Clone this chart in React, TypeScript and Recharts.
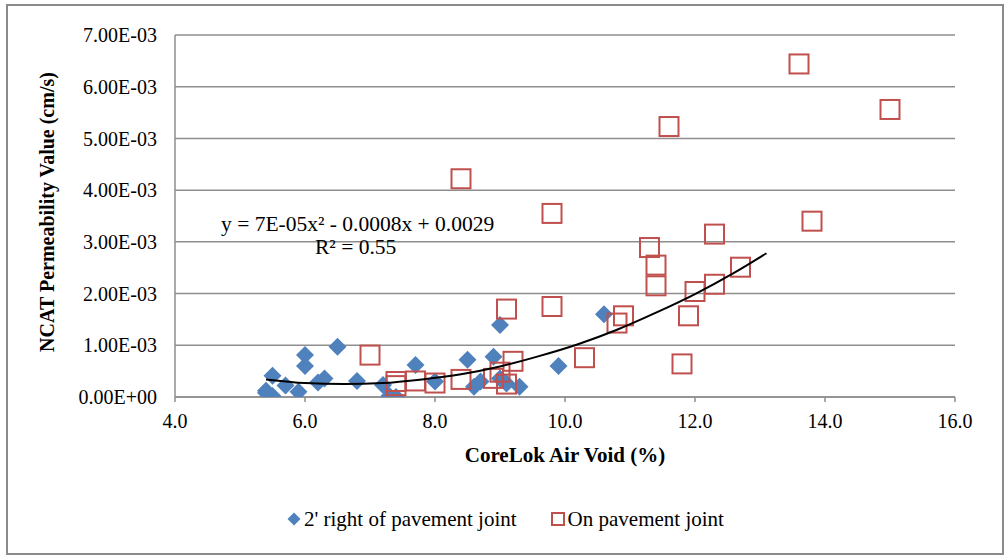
import React from 'react';
import { ScatterChart, Scatter, XAxis, YAxis, CartesianGrid } from 'recharts';

// 2' right of pavement joint (CoreLok air void %, permeability cm/s)
const blueX = [5.4, 5.5, 5.5, 5.7, 5.9, 6.0, 6.0, 6.2, 6.3, 6.5, 6.8, 7.2, 7.3, 7.4, 7.7, 8.0, 8.5, 8.6, 8.7, 8.9, 9.0, 9.0, 9.1, 9.3, 9.9, 10.6, 5.4];
const blueY = [0.00012, 0.00041, 0.00002, 0.00022, 0.0001, 0.00081, 0.0006, 0.00028, 0.00036, 0.00097, 0.00031, 0.00023, 0.00002, 0.0, 0.00062, 0.0003, 0.00072, 0.0002, 0.0003, 0.00078, 0.00139, 0.00036, 0.00026, 0.0002, 0.0006, 0.0016, 0.00008];

// On pavement joint
const redX = [7.0, 7.4, 7.4, 7.7, 8.0, 8.4, 8.4, 8.9, 9.0, 9.1, 9.1, 9.2, 9.8, 9.8, 10.3, 10.8, 10.9, 11.3, 11.4, 11.4, 11.6, 11.8, 11.9, 12.0, 12.3, 12.3, 12.7, 13.6, 13.8, 15.0];
const redY = [0.00081, 0.0003, 0.00022, 0.00031, 0.00027, 0.00422, 0.00034, 0.00036, 0.00048, 0.00025, 0.0017, 0.00069, 0.00355, 0.00175, 0.00076, 0.00143, 0.00157, 0.00289, 0.00255, 0.00215, 0.00523, 0.00064, 0.00157, 0.00204, 0.00315, 0.00218, 0.00251, 0.00644, 0.0034, 0.00556];

// Polynomial trendline
const trendX = [5.4, 6.0, 6.6, 7.2, 7.8, 8.4, 9.0, 9.6, 10.2, 10.8, 11.4, 12.0, 12.6, 13.1];
const trendY = [0.00034, 0.00027, 0.00025, 0.00027, 0.00034, 0.00044, 0.00059, 0.00079, 0.00102, 0.0013, 0.00163, 0.00199, 0.0024, 0.00278];

const xTicks = [4, 6, 8, 10, 12, 14, 16];
const yTicks = [0, 0.001, 0.002, 0.003, 0.004, 0.005, 0.006, 0.007];

const seriesNames = ["2' right of pavement joint", 'On pavement joint'];
const equationText = 'y = 7E-05x² - 0.0008x + 0.0029';
const r2Text = 'R² = 0.55';
const xTitle = 'CoreLok Air Void (%)';
const yTitle = 'NCAT Permeability Value (cm/s)';

const blueData = blueX.map((x, i) => ({ x, y: blueY[i] }));
const redData = redX.map((x, i) => ({ x, y: redY[i] }));
const trendData = trendX.map((x, i) => ({ x, y: trendY[i] }));

const BLUE = '#4F81BD';
const RED = '#C0504D';
const GRID = '#8E8E8E';
const FONT = '"Liberation Serif", "Times New Roman", serif';

const fmtY = (v: number) => {
  const s = v.toExponential(2);
  const [m, e] = s.split('e');
  const sign = e[0] === '-' ? '-' : '+';
  const digits = e.replace(/[+-]/, '').padStart(2, '0');
  return `${m}E${sign}${digits}`;
};

const Diamond = (props: any) => {
  const { cx, cy } = props;
  if (cx == null || cy == null) return <g />;
  const r = 9;
  return <polygon points={`${cx},${cy - r} ${cx + r},${cy} ${cx},${cy + r} ${cx - r},${cy}`} fill={BLUE} />;
};

const Square = (props: any) => {
  const { cx, cy } = props;
  if (cx == null || cy == null) return <g />;
  const h = 9.5;
  return <rect x={cx - h} y={cy - h} width={2 * h} height={2 * h} fill="none" stroke={RED} strokeWidth={2} />;
};

const NoShape = () => <g />;

export default function App() {
  return (
    <div style={{ position: 'absolute', left: 0, top: 0, width: 1005, height: 555, background: '#fff', fontFamily: FONT }}>
      <div style={{ position: 'absolute', left: 6, top: 4, width: 994, height: 547, border: '2px solid #8A8A8A' }} />
      <ScatterChart width={1005} height={555} margin={{ top: 35, right: 50, bottom: 98, left: 0 }} style={{ position: 'absolute', left: 0, top: 0, fontFamily: FONT }}>
        <CartesianGrid vertical={false} stroke={GRID} strokeWidth={1.5} />
        <XAxis
          type="number"
          dataKey="x"
          domain={[4, 16]}
          ticks={xTicks}
          tickFormatter={(v: number) => v.toFixed(1)}
          height={60}
          stroke={GRID}
          strokeWidth={1.5}
          tickSize={5}
          tickMargin={12}
          tick={{ fontSize: 20, fill: '#000', fontFamily: FONT }}
          allowDataOverflow
        />
        <YAxis
          type="number"
          dataKey="y"
          domain={[0, 0.007]}
          ticks={yTicks}
          tickFormatter={fmtY}
          width={175}
          stroke={GRID}
          strokeWidth={1.5}
          tickSize={0}
          tickMargin={18}
          tickLine={false}
          tick={{ fontSize: 20, fill: '#000', fontFamily: FONT }}
          allowDataOverflow
        />
        <Scatter name={seriesNames[0]} data={blueData} fill={BLUE} shape={Diamond} isAnimationActive={false} />
        <Scatter name={seriesNames[1]} data={redData} fill={RED} shape={Square} isAnimationActive={false} />
        <Scatter
          name="trend"
          data={trendData}
          line={{ stroke: '#000', strokeWidth: 2 }}
          lineJointType="monotoneX"
          shape={NoShape}
          legendType="none"
          isAnimationActive={false}
        />
      </ScatterChart>

      <div style={{ position: 'absolute', left: 221, top: 211, fontSize: 21.5, lineHeight: '26px', whiteSpace: 'nowrap', color: '#000' }}>{equationText}</div>
      <div style={{ position: 'absolute', left: 315, top: 234, fontSize: 21.5, lineHeight: '26px', whiteSpace: 'nowrap', color: '#000' }}>{r2Text}</div>

      <div style={{ position: 'absolute', left: 565, top: 455, transform: 'translate(-50%, -50%)', fontSize: 21, fontWeight: 'bold', lineHeight: 1, whiteSpace: 'nowrap', color: '#000' }}>{xTitle}</div>
      <div style={{ position: 'absolute', left: 47, top: 212, transform: 'translate(-50%, -50%) rotate(-90deg)', fontSize: 20, fontWeight: 'bold', lineHeight: 1, whiteSpace: 'nowrap', color: '#000' }}>{yTitle}</div>

      <div style={{ position: 'absolute', left: 287, top: 506, height: 26, display: 'flex', alignItems: 'center', fontSize: 21, whiteSpace: 'nowrap', color: '#000' }}>
        <svg width={14} height={14} style={{ marginRight: 3 }}>
          <polygon points="7,0.5 13.5,7 7,13.5 0.5,7" fill={BLUE} />
        </svg>
        <span>{seriesNames[0]}</span>
        <svg width={14} height={14} style={{ marginLeft: 34, marginRight: 3 }}>
          <rect x={1} y={1} width={12} height={12} fill="none" stroke={RED} strokeWidth={2} />
        </svg>
        <span>{seriesNames[1]}</span>
      </div>
    </div>
  );
}
